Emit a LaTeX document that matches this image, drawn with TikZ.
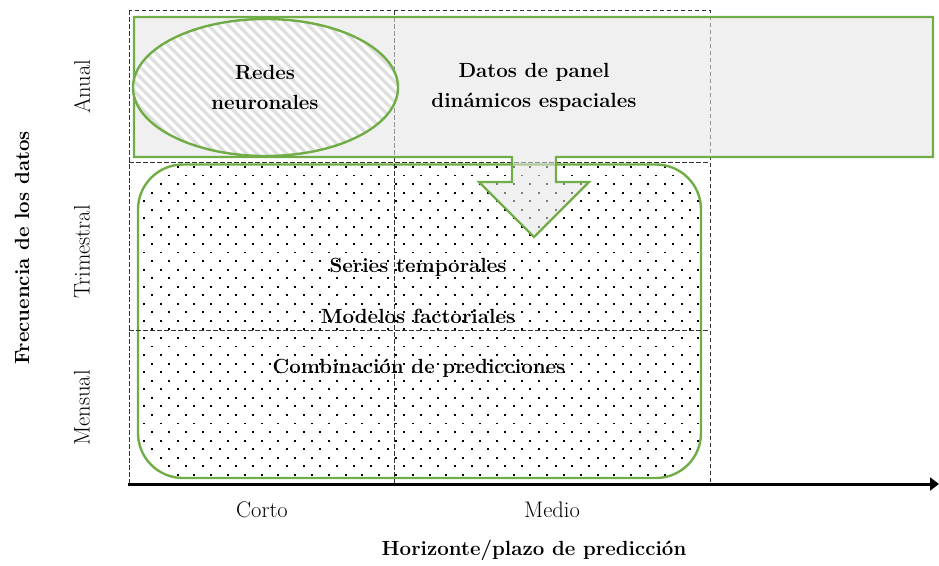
\documentclass[tikz,border=0pt]{standalone}
\usetikzlibrary{arrows.meta}
\definecolor{grn}{RGB}{112,173,71}
\definecolor{bannerfill}{RGB}{228,228,228}
\definecolor{stripe}{RGB}{224,224,224}
\begin{document}
\begin{tikzpicture}[x=1pt,y=-1pt,
  gridline/.style={black!80, dash pattern=on 4.5pt off 2.5pt, line width=0.9pt},
  gline/.style={grn, line width=2.4pt},
  lab/.style={font=\fontsize{22.5}{26}\selectfont},
  inlab/.style={font=\fontsize{20.5}{30}\selectfont\bfseries, align=center},
  ttl/.style={font=\fontsize{20.5}{24}\selectfont\bfseries},
  axis/.style={line width=3pt, -{Triangle[length=9pt,width=13pt]}}]
\useasboundingbox (0,0) rectangle (939,565);

% dotted region
\begin{scope}
\clip[rounded corners=45pt] (138,164.5) rectangle (701,478);
\foreach \j in {0,...,37}{
  \pgfmathsetmacro\yy{166+8.55*\j}
  \pgfmathsetmacro\xo{143+8.4*mod(\j,2)}
  \foreach \i in {0,...,34}{
    \fill (\xo+16.8*\i,\yy) rectangle ++(1.9,1.9);
  }
}
\end{scope}
\draw[gline, rounded corners=45pt] (138,164.5) rectangle (701,478);

% grid
\draw[gridline] (129,10) rectangle (710,484);
\draw[gridline] (394,10) -- (394,484);
\draw[gridline] (129,162) -- (710,162);
\draw[gridline] (129,330) -- (710,330);

% banner with arrow
\draw[gline, fill=bannerfill, fill opacity=0.55, line join=miter]
  (134,17) -- (933,17) -- (933,157) -- (556,157) -- (556,182) -- (589,182)
  -- (534,237) -- (479,182) -- (512,182) -- (512,157) -- (134,157) -- cycle;

% hatched ellipse
\begin{scope}
\clip (265.5,87.5) ellipse [x radius=132.5pt, y radius=68.5pt];
\fill[white] (130,15) rectangle (400,160);
\foreach \k in {-16,...,28}{
  \draw[stripe, line width=3.2pt] (113+10*\k,10) -- ++(160,160);
}
\end{scope}
\draw[gline] (265.5,87.5) ellipse [x radius=132.5pt, y radius=68.5pt];

% texts
\node[inlab] (redes) at (265,87) {Redes\\neuronales};
\node[inlab] (panel) at (534,87) {Datos de panel\\dinámicos espaciales};
\node[inlab] (series) at (418,267) {Series temporales};
\node[inlab] (modelos) at (418,316) {Modelos factoriales};
\node[inlab] (comb) at (419,368) {Combinación de predicciones};

\node[lab, rotate=90] (anual) at (82,87) {Anual};
\node[lab, rotate=90] (trim) at (82,252) {Trimestral};
\node[lab, rotate=90] (mens) at (82,408) {Mensual};
\node[ttl, rotate=90] (freq) at (22,248) {Frecuencia de los datos};
\node[lab] (corto) at (262,510) {Corto};
\node[lab] (medio) at (552,510) {Medio};
\node[ttl] (hor) at (534,550) {Horizonte/plazo de predicción};

% axis
\coordinate (o) at (128,484);
\coordinate (xe) at (939,484);
\draw[axis] (o) -- (xe);
\end{tikzpicture}
\end{document}
